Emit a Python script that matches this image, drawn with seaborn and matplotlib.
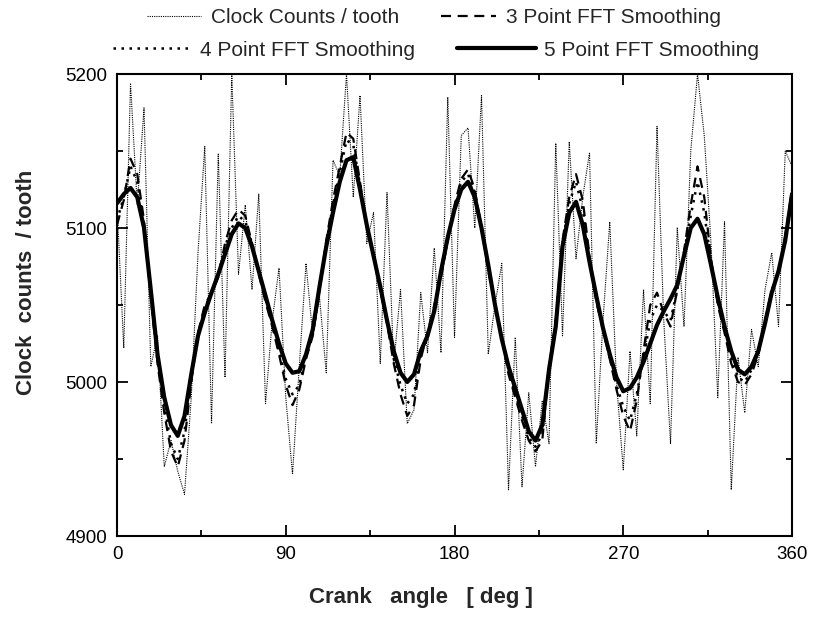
import numpy as np
import pandas as pd
import matplotlib
matplotlib.use("Agg")
import matplotlib.pyplot as plt
import seaborn as sns
from matplotlib.ticker import MultipleLocator

# crank angle sampled every 3.6 degrees (0..360)
angle = [round(3.6 * i, 1) for i in range(101)]

clock_counts = [5115, 5022, 5194, 5115, 5178, 5010, 5030, 4945, 4962, 4942,
                4927, 4990, 5084, 5153, 4973, 5148, 5003, 5200, 5070, 5115,
                5060, 5122, 4986, 5040, 5074, 4990, 4940, 5010, 5077, 5030,
                5055, 5006, 5144, 5134, 5200, 5120, 5186, 5090, 5110, 5012,
                5123, 5011, 5060, 4973, 4982, 5058, 5019, 5087, 5019, 5185,
                5029, 5160, 5165, 5100, 5186, 5018, 5050, 5077, 4930, 5029,
                4932, 4993, 4945, 4988, 4960, 5155, 5030, 5156, 5080, 5120,
                5149, 4960, 5040, 5104, 5000, 4943, 5020, 4965, 5060, 4986,
                5166, 5040, 4960, 5100, 5036, 5150, 5200, 5160, 5090, 4990,
                5104, 4930, 5016, 4980, 5034, 5010, 5060, 5084, 5036, 5150,
                5140]

fft3 = [5102, 5118, 5145, 5135, 5105, 5055, 5012, 4980, 4955, 4945,
        4962, 5000, 5032, 5050, 5058, 5068, 5090, 5105, 5112, 5108,
        5090, 5070, 5052, 5036, 5018, 4998, 4985, 4995, 5015, 5030,
        5060, 5092, 5118, 5140, 5162, 5158, 5130, 5100, 5082, 5060,
        5038, 5012, 4992, 4978, 4985, 5015, 5032, 5050, 5068, 5092,
        5115, 5132, 5138, 5125, 5100, 5072, 5050, 5030, 5005, 4990,
        4975, 4962, 4955, 4962, 5010, 5040, 5092, 5120, 5135, 5118,
        5082, 5052, 5034, 5015, 4995, 4978, 4968, 4988, 5020, 5050,
        5058, 5045, 5036, 5060, 5085, 5115, 5140, 5120, 5080, 5050,
        5032, 5012, 5000, 4998, 5005, 5018, 5040, 5060, 5070, 5095,
        5125]

fft4 = [5105, 5120, 5140, 5130, 5102, 5058, 5014, 4985, 4960, 4950,
        4968, 5002, 5030, 5048, 5058, 5070, 5088, 5100, 5108, 5104,
        5090, 5072, 5054, 5038, 5020, 5002, 4992, 4998, 5016, 5032,
        5060, 5090, 5115, 5136, 5157, 5154, 5128, 5100, 5082, 5060,
        5040, 5015, 4998, 4986, 4992, 5018, 5030, 5048, 5070, 5092,
        5114, 5130, 5135, 5123, 5100, 5074, 5050, 5029, 5008, 4992,
        4978, 4964, 4958, 4966, 5008, 5038, 5090, 5116, 5130, 5112,
        5080, 5054, 5034, 5016, 4998, 4984, 4975, 4992, 5016, 5040,
        5050, 5046, 5040, 5060, 5084, 5108, 5130, 5110, 5078, 5052,
        5034, 5016, 5003, 5000, 5008, 5019, 5039, 5059, 5071, 5093,
        5123]

fft5 = [5116, 5122, 5126, 5120, 5100, 5060, 5018, 4990, 4972, 4965,
        4978, 5005, 5030, 5045, 5058, 5070, 5083, 5096, 5103, 5100,
        5088, 5072, 5056, 5040, 5025, 5012, 5006, 5007, 5018, 5034,
        5062, 5088, 5110, 5130, 5144, 5146, 5125, 5102, 5082, 5062,
        5040, 5020, 5006, 5000, 5005, 5020, 5030, 5046, 5072, 5094,
        5112, 5125, 5130, 5120, 5100, 5076, 5050, 5028, 5010, 4996,
        4982, 4968, 4962, 4972, 5008, 5036, 5088, 5110, 5117, 5102,
        5078, 5056, 5035, 5018, 5003, 4994, 4996, 5003, 5013, 5025,
        5037, 5046, 5054, 5063, 5082, 5100, 5106, 5096, 5076, 5055,
        5036, 5020, 5008, 5005, 5010, 5020, 5038, 5058, 5072, 5092,
        5122]

labels = ["Clock Counts / tooth", "3 Point FFT Smoothing",
          "4 Point FFT Smoothing", "5 Point FFT Smoothing"]
xticks = [0, 90, 180, 270, 360]
yticks = [4900, 5000, 5100, 5200]

sns.set_style("ticks")
plt.rcParams["font.family"] = ["Liberation Sans", "DejaVu Sans"]

fig = plt.figure(figsize=(8.16, 6.25), dpi=100)
ax = fig.add_axes([0.1434, 0.1424, 0.8272, 0.7392])

df = pd.DataFrame({"angle": angle, "raw": clock_counts, "f3": fft3,
                   "f4": fft4, "f5": fft5})

sns.lineplot(data=df, x="angle", y="raw", ax=ax, color="black", lw=0.8,
             label=labels[0])
ax.lines[-1].set_dashes((1.0, 1.0))
h_raw = ax.lines[-1]
sns.lineplot(data=df, x="angle", y="f3", ax=ax, color="black", lw=1.6,
             label=labels[1])
ax.lines[-1].set_dashes((4.5, 3.0))
h3 = ax.lines[-1]
sns.lineplot(data=df, x="angle", y="f4", ax=ax, color="black", lw=1.8,
             label=labels[2])
ax.lines[-1].set_dashes((1.0, 2.2))
h4 = ax.lines[-1]
sns.lineplot(data=df, x="angle", y="f5", ax=ax, color="black", lw=3.0,
             label=labels[3])
h5 = ax.lines[-1]
ax.get_legend().remove()

ax.set_xlim(0, 360)
ax.set_ylim(4900, 5200)
ax.set_xticks(xticks)
ax.set_yticks(yticks)
ax.xaxis.set_minor_locator(MultipleLocator(45))
ax.yaxis.set_minor_locator(MultipleLocator(50))
ax.tick_params(which="both", direction="in", top=True, right=True,
               width=1.3, labelsize=13.5, colors="black")
ax.tick_params(which="major", length=8, pad=7)
ax.tick_params(which="minor", length=4)
for s in ax.spines.values():
    s.set_linewidth(1.5)
    s.set_color("black")

ax.set_xlabel("Crank   angle   [ deg ]", fontsize=16, fontweight="bold",
              labelpad=16)
ax.xaxis.set_label_coords(0.45, -0.11)
ax.set_ylabel("Clock  counts  / tooth", fontsize=16, fontweight="bold",
              labelpad=12)
ax.yaxis.set_label_coords(-0.118, 0.55)

leg1 = fig.legend([h_raw, h3], labels[:2], ncol=2, frameon=False,
                  loc="center left", bbox_to_anchor=(0.18, 0.972),
                  fontsize=15, handlelength=2.6, columnspacing=2.0,
                  handletextpad=0.5, borderpad=0, borderaxespad=0)
leg2 = fig.legend([h4, h5], labels[2:], ncol=2, frameon=False,
                  loc="center left", bbox_to_anchor=(0.138, 0.92),
                  fontsize=15, handlelength=3.8, columnspacing=2.0,
                  handletextpad=0.4, borderpad=0, borderaxespad=0)

fig.savefig("out.png", dpi=100)
